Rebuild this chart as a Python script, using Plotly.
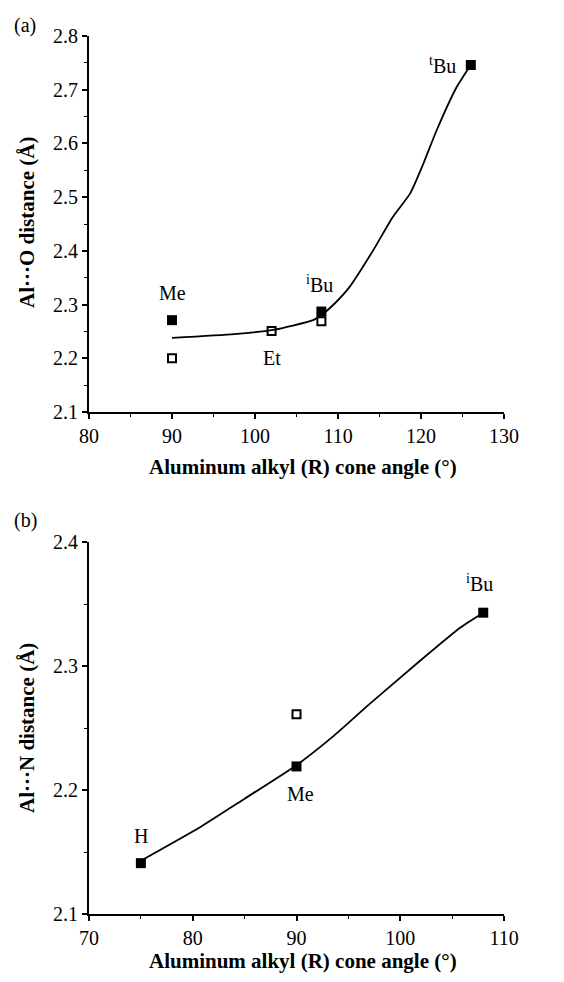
import plotly.graph_objects as go

# ---------- Panel (a) data ----------
a_filled_x = [90, 108, 126]
a_filled_y = [2.271, 2.287, 2.746]
a_open_x = [90, 102, 108]
a_open_y = [2.200, 2.251, 2.269]
a_curve_x = [90, 97.5, 102.2, 107, 108.3, 109.6, 111.4, 114.2, 116.6, 118.7, 120.3, 121.9, 124.3, 126]
a_curve_y = [2.238, 2.245, 2.253, 2.271, 2.284, 2.302, 2.333, 2.400, 2.463, 2.507, 2.563, 2.625, 2.705, 2.746]
a_labels = ["Me", "Et", "<sup>i</sup>Bu", "<sup>t</sup>Bu"]
a_label_x = [90, 102, 108, 126]
a_label_y = [2.271, 2.251, 2.287, 2.746]

# ---------- Panel (b) data ----------
b_filled_x = [75, 90, 108]
b_filled_y = [2.141, 2.219, 2.343]
b_open_x = [90]
b_open_y = [2.261]
b_curve_x = [75, 80.7, 85, 90, 93.5, 97, 101.6, 105.8, 108]
b_curve_y = [2.143, 2.170, 2.193, 2.220, 2.243, 2.269, 2.302, 2.331, 2.343]
b_labels = ["H", "Me", "<sup>i</sup>Bu"]
b_label_x = [75, 90, 108]
b_label_y = [2.141, 2.219, 2.343]

xa_ticks = [80, 90, 100, 110, 120, 130]
ya_ticks = [2.1, 2.2, 2.3, 2.4, 2.5, 2.6, 2.7, 2.8]
xb_ticks = [70, 80, 90, 100, 110]
yb_ticks = [2.1, 2.2, 2.3, 2.4]

FONT = "Liberation Serif"
W, H = 564, 982

fig = go.Figure()

def add_panel(xref, yref, cx, cy, fx, fy, ox, oy):
    fig.add_trace(go.Scatter(x=cx, y=cy, mode="lines", xaxis=xref, yaxis=yref,
                             line=dict(color="black", width=1.8, shape="spline", smoothing=0.5),
                             showlegend=False, hoverinfo="skip"))
    fig.add_trace(go.Scatter(x=ox, y=oy, mode="markers", xaxis=xref, yaxis=yref,
                             marker=dict(symbol="square-open", size=8, color="black",
                                         line=dict(width=2, color="black")),
                             showlegend=False))
    fig.add_trace(go.Scatter(x=fx, y=fy, mode="markers", xaxis=xref, yaxis=yref,
                             marker=dict(symbol="square", size=10, color="black"),
                             showlegend=False))

add_panel("x", "y", a_curve_x, a_curve_y, a_filled_x, a_filled_y, a_open_x, a_open_y)
add_panel("x2", "y2", b_curve_x, b_curve_y, b_filled_x, b_filled_y, b_open_x, b_open_y)

def dx(p):
    return p / W

def dy(p):
    return 1 - p / H

axis_common = dict(showgrid=False, zeroline=False, showline=True, linecolor="black",
                   linewidth=2, ticks="outside", tickcolor="black", ticklen=5, tickwidth=1.5,
                   automargin=False,
                   tickfont=dict(family=FONT, size=20, color="black"),
                   minor=dict(ticks="outside", ticklen=3, tickcolor="black", tickwidth=1.2))

fig.update_layout(
    template="none",
    width=W, height=H, margin=dict(l=0, r=0, t=0, b=0, pad=0, autoexpand=False),
    paper_bgcolor="white", plot_bgcolor="white",
    font=dict(family=FONT, color="black"),
    xaxis=dict(domain=[dx(89), dx(504)], range=[80, 130], anchor="y",
               tickvals=xa_ticks, minor_dtick=5, **axis_common),
    yaxis=dict(domain=[dy(412), dy(36)], range=[2.1, 2.8], anchor="x",
               tickvals=ya_ticks, tickformat=".1f", minor_dtick=0.05, **axis_common),
    xaxis2=dict(domain=[dx(89), dx(504)], range=[70, 110], anchor="y2",
                tickvals=xb_ticks, minor_dtick=5, **axis_common),
    yaxis2=dict(domain=[dy(914), dy(542)], range=[2.1, 2.4], anchor="x2",
                tickvals=yb_ticks, tickformat=".1f", minor_dtick=0.05, **axis_common),
)

lab_font = dict(family=FONT, size=20, color="black")
a_offsets = [(0, 27), (0, -27), (-2, 28), (-28, 0)]
for t, x, y, (sx, sy) in zip(a_labels, a_label_x, a_label_y, a_offsets):
    fig.add_annotation(text=t, x=x, y=y, xref="x", yref="y", showarrow=False,
                       xshift=sx, yshift=sy, xanchor="center", yanchor="middle", font=lab_font)
b_offsets = [(0, 27), (4, -28), (-4, 30)]
for t, x, y, (sx, sy) in zip(b_labels, b_label_x, b_label_y, b_offsets):
    fig.add_annotation(text=t, x=x, y=y, xref="x2", yref="y2", showarrow=False,
                       xshift=sx, yshift=sy, xanchor="center", yanchor="middle", font=lab_font)

title_font = dict(family=FONT, size=21, color="black")

def paper_text(text, px, py, font, angle=0):
    fig.add_annotation(text=text, x=dx(px), y=dy(py), xref="paper", yref="paper",
                       showarrow=False, xanchor="center", yanchor="middle",
                       textangle=angle, font=font)

paper_text("<b>Aluminum alkyl (R) cone angle (°)</b>", 303, 467, title_font)
paper_text("<b>Aluminum alkyl (R) cone angle (°)</b>", 303, 961, title_font)
paper_text("<b>Al···O distance (Å)</b>", 27, 222, title_font, -90)
paper_text("<b>Al···N distance (Å)</b>", 27, 728, title_font, -90)
paper_text("(a)", 25, 25, dict(family=FONT, size=20, color="black"))
paper_text("(b)", 25, 520, dict(family=FONT, size=20, color="black"))

fig.write_html("out.html")
